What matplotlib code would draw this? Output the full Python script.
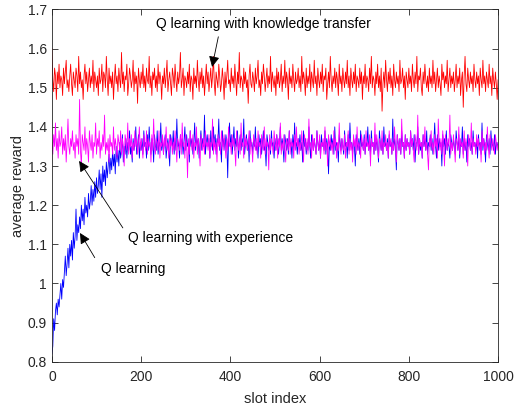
import numpy as np
import matplotlib
matplotlib.use("Agg")
import matplotlib.pyplot as plt

plt.rcParams['font.family'] = ['Liberation Sans', 'DejaVu Sans']

# slot index, every 2nd slot
slots = np.arange(0, 1001, 2)

reward_transfer = [
    1.60, 1.52, 1.49, 1.55, 1.53, 1.47, 1.54, 1.51, 1.56, 1.50, 1.53, 1.52, 1.48, 1.55, 1.51, 1.54, 1.57, 1.50, 1.52, 1.49, 1.53, 1.56, 1.51, 1.48, 1.54,
    1.52, 1.50, 1.55, 1.53, 1.49, 1.58, 1.51, 1.54, 1.50, 1.52, 1.47, 1.53, 1.56, 1.51, 1.54, 1.49, 1.52, 1.55, 1.50, 1.53, 1.51, 1.57, 1.49, 1.54, 1.52,
    1.50, 1.53, 1.48, 1.55, 1.51, 1.52, 1.56, 1.49, 1.54, 1.53, 1.50, 1.58, 1.52, 1.48, 1.55, 1.51, 1.53, 1.50, 1.54, 1.47, 1.52, 1.56, 1.51, 1.53, 1.49,
    1.55, 1.52, 1.50, 1.59, 1.51, 1.54, 1.49, 1.53, 1.52, 1.56, 1.48, 1.51, 1.55, 1.53, 1.50, 1.52, 1.57, 1.49, 1.54, 1.51, 1.53, 1.46, 1.55, 1.52, 1.50,
    1.54, 1.51, 1.56, 1.50, 1.53, 1.49, 1.55, 1.52, 1.51, 1.58, 1.50, 1.53, 1.48, 1.54, 1.52, 1.55, 1.50, 1.53, 1.49, 1.56, 1.51, 1.54, 1.52, 1.47, 1.53,
    1.51, 1.55, 1.50, 1.53, 1.57, 1.49, 1.52, 1.54, 1.51, 1.48, 1.55, 1.53, 1.50, 1.56, 1.52, 1.49, 1.54, 1.51, 1.53, 1.59, 1.50, 1.52, 1.55, 1.48, 1.53,
    1.52, 1.50, 1.54, 1.51, 1.56, 1.49, 1.53, 1.52, 1.47, 1.55, 1.51, 1.53, 1.50, 1.57, 1.52, 1.49, 1.54, 1.51, 1.55, 1.50, 1.53, 1.48, 1.52, 1.56, 1.51,
    1.54, 1.49, 1.52, 1.55, 1.50, 1.53, 1.58, 1.51, 1.48, 1.54, 1.52, 1.50, 1.56, 1.53, 1.49, 1.51, 1.55, 1.52, 1.47, 1.54, 1.50, 1.53, 1.57, 1.51, 1.52,
    1.49, 1.55, 1.51, 1.53, 1.50, 1.56, 1.52, 1.48, 1.54, 1.51, 1.59, 1.50, 1.53, 1.52, 1.49, 1.55, 1.51, 1.54, 1.50, 1.52, 1.46, 1.53, 1.56, 1.51, 1.50,
    1.54, 1.52, 1.49, 1.55, 1.51, 1.53, 1.57, 1.50, 1.52, 1.48, 1.54, 1.51, 1.56, 1.53, 1.49, 1.52, 1.55, 1.50, 1.53, 1.51, 1.58, 1.49, 1.54, 1.52, 1.50,
    1.53, 1.48, 1.55, 1.51, 1.54, 1.50, 1.52, 1.56, 1.49, 1.53, 1.51, 1.57, 1.50, 1.54, 1.52, 1.47, 1.55, 1.51, 1.53, 1.50, 1.56, 1.52, 1.49, 1.54, 1.51,
    1.52, 1.55, 1.50, 1.53, 1.49, 1.58, 1.51, 1.54, 1.52, 1.48, 1.55, 1.50, 1.53, 1.51, 1.56, 1.49, 1.54, 1.52, 1.50, 1.57, 1.51, 1.53, 1.48, 1.55, 1.52,
    1.50, 1.54, 1.51, 1.56, 1.49, 1.53, 1.52, 1.55, 1.47, 1.51, 1.54, 1.50, 1.58, 1.52, 1.49, 1.53, 1.51, 1.55, 1.50, 1.54, 1.52, 1.48, 1.56, 1.51, 1.53,
    1.49, 1.55, 1.52, 1.50, 1.54, 1.51, 1.57, 1.50, 1.53, 1.48, 1.55, 1.52, 1.50, 1.54, 1.51, 1.56, 1.49, 1.53, 1.52, 1.50, 1.55, 1.51, 1.54, 1.47, 1.53,
    1.51, 1.56, 1.50, 1.53, 1.52, 1.49, 1.55, 1.51, 1.58, 1.50, 1.53, 1.52, 1.48, 1.54, 1.51, 1.56, 1.50, 1.53, 1.49, 1.55, 1.44, 1.51, 1.54, 1.50, 1.57,
    1.52, 1.49, 1.54, 1.51, 1.55, 1.50, 1.53, 1.48, 1.56, 1.52, 1.50, 1.54, 1.51, 1.53, 1.49, 1.57, 1.51, 1.52, 1.55, 1.50, 1.53, 1.47, 1.54, 1.52, 1.50,
    1.55, 1.51, 1.53, 1.49, 1.56, 1.52, 1.50, 1.54, 1.51, 1.58, 1.49, 1.53, 1.52, 1.55, 1.50, 1.48, 1.54, 1.51, 1.56, 1.52, 1.50, 1.53, 1.49, 1.55, 1.51,
    1.53, 1.50, 1.57, 1.51, 1.54, 1.49, 1.52, 1.55, 1.50, 1.53, 1.51, 1.48, 1.56, 1.52, 1.54, 1.50, 1.53, 1.51, 1.57, 1.49, 1.52, 1.55, 1.50, 1.53, 1.51,
    1.54, 1.49, 1.52, 1.56, 1.50, 1.53, 1.51, 1.55, 1.48, 1.52, 1.54, 1.45, 1.53, 1.58, 1.51, 1.49, 1.55, 1.52, 1.50, 1.54, 1.51, 1.53, 1.49, 1.56, 1.52,
    1.50, 1.54, 1.51, 1.53, 1.48, 1.55, 1.52, 1.50, 1.57, 1.51, 1.53, 1.49, 1.54, 1.52, 1.50, 1.56, 1.51, 1.53, 1.48, 1.55, 1.52, 1.50, 1.54, 1.51, 1.47,
    1.52,
]

reward_experience = [
    1.36, 1.33, 1.38, 1.35, 1.41, 1.34, 1.37, 1.32, 1.39, 1.35, 1.36, 1.40, 1.33, 1.37, 1.34, 1.38, 1.31, 1.36, 1.42, 1.35, 1.33, 1.37, 1.35, 1.39, 1.34,
    1.36, 1.32, 1.38, 1.35, 1.37, 1.33, 1.47, 1.34, 1.30, 1.38, 1.36, 1.34, 1.40, 1.33, 1.37, 1.35, 1.31, 1.39, 1.36, 1.34, 1.38, 1.32, 1.36, 1.35, 1.41,
    1.33, 1.37, 1.35, 1.39, 1.32, 1.36, 1.34, 1.38, 1.35, 1.43, 1.33, 1.36, 1.34, 1.37, 1.31, 1.38, 1.35, 1.36, 1.33, 1.40, 1.34, 1.37, 1.35, 1.32, 1.38,
    1.36, 1.34, 1.39, 1.33, 1.37, 1.35, 1.30, 1.38, 1.36, 1.34, 1.41, 1.33, 1.37, 1.35, 1.38, 1.32, 1.36, 1.34, 1.39, 1.35, 1.37, 1.33, 1.36, 1.40, 1.34,
    1.37, 1.35, 1.32, 1.38, 1.36, 1.34, 1.39, 1.33, 1.37, 1.35, 1.36, 1.31, 1.38, 1.34, 1.42, 1.35, 1.33, 1.37, 1.36, 1.34, 1.39, 1.32, 1.36, 1.35, 1.38,
    1.33, 1.37, 1.35, 1.40, 1.34, 1.36, 1.32, 1.38, 1.35, 1.37, 1.33, 1.36, 1.34, 1.39, 1.35, 1.31, 1.37, 1.36, 1.34, 1.38, 1.33, 1.41, 1.35, 1.36, 1.32,
    1.38, 1.35, 1.27, 1.37, 1.33, 1.39, 1.36, 1.34, 1.38, 1.32, 1.36, 1.35, 1.40, 1.33, 1.37, 1.35, 1.30, 1.38, 1.36, 1.34, 1.37, 1.33, 1.39, 1.35, 1.36,
    1.34, 1.38, 1.32, 1.36, 1.35, 1.42, 1.33, 1.37, 1.34, 1.36, 1.31, 1.38, 1.35, 1.37, 1.33, 1.39, 1.36, 1.34, 1.38, 1.35, 1.32, 1.37, 1.34, 1.40, 1.35,
    1.36, 1.33, 1.38, 1.35, 1.37, 1.34, 1.30, 1.39, 1.36, 1.34, 1.37, 1.33, 1.41, 1.35, 1.36, 1.32, 1.38, 1.35, 1.37, 1.34, 1.36, 1.39, 1.33, 1.37, 1.35,
    1.31, 1.38, 1.36, 1.34, 1.37, 1.33, 1.39, 1.35, 1.36, 1.32, 1.38, 1.35, 1.34, 1.40, 1.33, 1.37, 1.35, 1.36, 1.29, 1.38, 1.34, 1.37, 1.35, 1.33, 1.39,
    1.36, 1.34, 1.38, 1.32, 1.37, 1.35, 1.41, 1.33, 1.36, 1.34, 1.38, 1.35, 1.31, 1.37, 1.36, 1.34, 1.39, 1.33, 1.37, 1.35, 1.36, 1.32, 1.38, 1.34, 1.40,
    1.35, 1.37, 1.33, 1.36, 1.34, 1.39, 1.35, 1.31, 1.38, 1.36, 1.34, 1.37, 1.33, 1.42, 1.35, 1.36, 1.32, 1.38, 1.34, 1.37, 1.35, 1.33, 1.39, 1.36, 1.34,
    1.38, 1.32, 1.36, 1.35, 1.37, 1.33, 1.40, 1.34, 1.36, 1.30, 1.38, 1.35, 1.37, 1.34, 1.36, 1.33, 1.39, 1.35, 1.37, 1.32, 1.36, 1.34, 1.41, 1.35, 1.33,
    1.37, 1.35, 1.34, 1.38, 1.32, 1.36, 1.35, 1.39, 1.33, 1.37, 1.34, 1.36, 1.31, 1.38, 1.35, 1.37, 1.33, 1.40, 1.34, 1.36, 1.35, 1.32, 1.38, 1.36, 1.34,
    1.37, 1.33, 1.39, 1.35, 1.36, 1.34, 1.38, 1.30, 1.37, 1.35, 1.36, 1.33, 1.41, 1.34, 1.38, 1.35, 1.32, 1.37, 1.36, 1.34, 1.39, 1.33, 1.36, 1.35, 1.38,
    1.34, 1.36, 1.32, 1.39, 1.35, 1.37, 1.33, 1.36, 1.34, 1.40, 1.35, 1.31, 1.38, 1.36, 1.34, 1.37, 1.33, 1.42, 1.35, 1.36, 1.32, 1.38, 1.34, 1.37, 1.35,
    1.36, 1.33, 1.39, 1.35, 1.37, 1.34, 1.31, 1.38, 1.36, 1.34, 1.43, 1.33, 1.37, 1.35, 1.36, 1.32, 1.38, 1.35, 1.40, 1.34, 1.36, 1.33, 1.29, 1.37, 1.35,
    1.39, 1.34, 1.36, 1.33, 1.38, 1.35, 1.37, 1.32, 1.42, 1.36, 1.34, 1.37, 1.33, 1.39, 1.35, 1.30, 1.38, 1.36, 1.34, 1.37, 1.35, 1.43, 1.33, 1.36, 1.34,
    1.38, 1.35, 1.31, 1.37, 1.36, 1.34, 1.40, 1.33, 1.37, 1.35, 1.36, 1.32, 1.39, 1.34, 1.37, 1.35, 1.30, 1.38, 1.36, 1.34, 1.41, 1.33, 1.37, 1.35, 1.36,
    1.33, 1.38, 1.35, 1.37, 1.34, 1.36, 1.31, 1.39, 1.35, 1.37, 1.33, 1.36, 1.34, 1.40, 1.35, 1.32, 1.38, 1.36, 1.34, 1.37, 1.35, 1.33, 1.38, 1.36, 1.34,
    1.36,
]

reward_q = [
    0.82, 0.84, 0.91, 0.88, 0.93, 0.95, 0.92, 0.96, 0.94, 0.97, 1.00, 0.96, 1.01, 0.99, 1.03, 1.07, 1.02, 1.05, 1.09, 1.04, 1.10, 1.07, 1.11, 1.06, 1.13,
    1.09, 1.12, 1.19, 1.11, 1.15, 1.13, 1.17, 1.14, 1.20, 1.16, 1.19, 1.15, 1.22, 1.18, 1.20, 1.17, 1.23, 1.19, 1.21, 1.25, 1.20, 1.24, 1.21, 1.26, 1.22,
    1.27, 1.23, 1.25, 1.29, 1.24, 1.28, 1.22, 1.30, 1.26, 1.29, 1.25, 1.31, 1.27, 1.30, 1.33, 1.28, 1.32, 1.29, 1.34, 1.30, 1.33, 1.28, 1.35, 1.31, 1.34,
    1.30, 1.36, 1.32, 1.34, 1.38, 1.31, 1.35, 1.33, 1.37, 1.32, 1.36, 1.34, 1.39, 1.33, 1.35, 1.31, 1.37, 1.34, 1.36, 1.40, 1.33, 1.35, 1.38, 1.32, 1.36,
    1.34, 1.37, 1.33, 1.39, 1.35, 1.36, 1.32, 1.38, 1.34, 1.40, 1.35, 1.33, 1.37, 1.36, 1.31, 1.38, 1.35, 1.34, 1.39, 1.33, 1.36, 1.35, 1.41, 1.34, 1.37,
    1.33, 1.36, 1.38, 1.32, 1.35, 1.37, 1.34, 1.30, 1.38, 1.36, 1.35, 1.39, 1.33, 1.37, 1.34, 1.42, 1.35, 1.36, 1.32, 1.38, 1.35, 1.37, 1.33, 1.36, 1.40,
    1.34, 1.38, 1.35, 1.36, 1.31, 1.39, 1.35, 1.37, 1.33, 1.36, 1.41, 1.34, 1.38, 1.35, 1.37, 1.32, 1.36, 1.39, 1.34, 1.37, 1.35, 1.43, 1.33, 1.36, 1.38,
    1.35, 1.37, 1.32, 1.39, 1.36, 1.34, 1.40, 1.35, 1.38, 1.33, 1.37, 1.36, 1.42, 1.34, 1.36, 1.31, 1.39, 1.35, 1.37, 1.34, 1.38, 1.36, 1.27, 1.37, 1.41,
    1.35, 1.38, 1.33, 1.36, 1.40, 1.34, 1.37, 1.35, 1.39, 1.32, 1.36, 1.38, 1.34, 1.37, 1.35, 1.42, 1.33, 1.36, 1.38, 1.34, 1.37, 1.31, 1.39, 1.35, 1.36,
    1.33, 1.37, 1.35, 1.40, 1.34, 1.36, 1.32, 1.38, 1.35, 1.37, 1.33, 1.36, 1.39, 1.34, 1.35, 1.30, 1.38, 1.36, 1.34, 1.37, 1.33, 1.39, 1.35, 1.36, 1.32,
    1.37, 1.34, 1.38, 1.35, 1.33, 1.36, 1.40, 1.34, 1.37, 1.35, 1.31, 1.38, 1.36, 1.34, 1.37, 1.33, 1.39, 1.35, 1.36, 1.32, 1.38, 1.34, 1.41, 1.35, 1.36,
    1.33, 1.37, 1.35, 1.38, 1.34, 1.36, 1.31, 1.39, 1.35, 1.37, 1.33, 1.36, 1.34, 1.40, 1.35, 1.32, 1.38, 1.36, 1.34, 1.37, 1.35, 1.33, 1.39, 1.36, 1.34,
    1.37, 1.32, 1.38, 1.35, 1.36, 1.34, 1.39, 1.33, 1.37, 1.35, 1.28, 1.36, 1.34, 1.38, 1.35, 1.37, 1.33, 1.40, 1.34, 1.36, 1.35, 1.31, 1.38, 1.36, 1.34,
    1.37, 1.35, 1.33, 1.39, 1.35, 1.36, 1.32, 1.38, 1.34, 1.41, 1.35, 1.36, 1.33, 1.37, 1.35, 1.30, 1.38, 1.36, 1.34, 1.37, 1.33, 1.39, 1.35, 1.36, 1.34,
    1.38, 1.33, 1.36, 1.35, 1.40, 1.34, 1.37, 1.32, 1.39, 1.35, 1.36, 1.33, 1.38, 1.34, 1.37, 1.35, 1.31, 1.39, 1.36, 1.34, 1.37, 1.33, 1.40, 1.35, 1.36,
    1.34, 1.37, 1.32, 1.38, 1.35, 1.36, 1.33, 1.42, 1.34, 1.37, 1.35, 1.29, 1.38, 1.36, 1.34, 1.37, 1.33, 1.39, 1.35, 1.36, 1.32, 1.38, 1.34, 1.37, 1.35,
    1.36, 1.33, 1.39, 1.35, 1.37, 1.34, 1.38, 1.31, 1.36, 1.35, 1.40, 1.33, 1.37, 1.34, 1.36, 1.32, 1.38, 1.35, 1.37, 1.34, 1.39, 1.33, 1.36, 1.35, 1.38,
    1.34, 1.37, 1.33, 1.36, 1.41, 1.35, 1.32, 1.38, 1.34, 1.37, 1.35, 1.36, 1.30, 1.38, 1.35, 1.37, 1.33, 1.39, 1.34, 1.36, 1.35, 1.32, 1.38, 1.36, 1.34,
    1.37, 1.35, 1.33, 1.39, 1.36, 1.34, 1.38, 1.32, 1.36, 1.35, 1.40, 1.33, 1.37, 1.34, 1.36, 1.31, 1.38, 1.35, 1.37, 1.34, 1.36, 1.33, 1.39, 1.35, 1.36,
    1.34, 1.37, 1.32, 1.38, 1.35, 1.36, 1.33, 1.41, 1.34, 1.37, 1.35, 1.31, 1.38, 1.36, 1.34, 1.37, 1.33, 1.39, 1.35, 1.36, 1.34, 1.38, 1.33, 1.36, 1.35,
    1.36,
]

axis_col = '#262626'

fig = plt.figure(figsize=(5.14, 4.07), dpi=100)
ax = fig.add_axes([0.101, 0.111, 0.868, 0.866])

ax.plot(slots, reward_transfer, color='red', lw=0.6)
ax.plot(slots, reward_q, color='blue', lw=0.6)
ax.plot(slots, reward_experience, color='magenta', lw=0.6)

ax.set_xlim(0, 1000)
ax.set_ylim(0.8, 1.7)
ax.set_xticks(np.arange(0, 1001, 200))
ax.set_yticks(np.arange(0.8, 1.71, 0.1))
ax.set_yticklabels(['0.8', '0.9', '1', '1.1', '1.2', '1.3', '1.4', '1.5', '1.6', '1.7'])
ax.tick_params(direction='in', top=True, right=True, length=4, width=0.6,
               colors=axis_col, labelsize=10)
ax.tick_params(axis='x', pad=6)
for s in ax.spines.values():
    s.set_linewidth(0.6)
    s.set_color(axis_col)

ax.set_xlabel('slot index', fontsize=10.5, color=axis_col, labelpad=6)
ax.set_ylabel('average reward', fontsize=10.5, color=axis_col, labelpad=2)

arrow = dict(arrowstyle='-|>', color='k', lw=0.6, mutation_scale=16, shrinkA=0, shrinkB=0)
ax.text(473, 1.663, 'Q learning with knowledge transfer', ha='center', va='center', fontsize=10)
ax.annotate('', xy=(359, 1.553), xytext=(373, 1.63), arrowprops=arrow)
ax.text(170, 1.117, 'Q learning with experience', ha='left', va='center', fontsize=10)
ax.annotate('', xy=(61, 1.313), xytext=(159, 1.142), arrowprops=arrow)
ax.text(110, 1.037, 'Q learning', ha='left', va='center', fontsize=10)
ax.annotate('', xy=(63, 1.129), xytext=(96, 1.066), arrowprops=arrow)

fig.savefig('out.png', dpi=100)
